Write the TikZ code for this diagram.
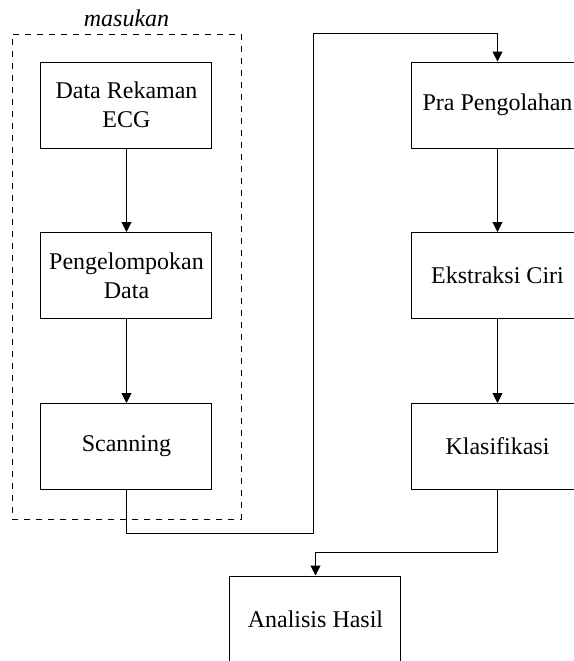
\documentclass[tikz,border=0pt]{standalone}
\usepackage{fontspec}
\setmainfont{Liberation Serif}
\usepackage{tikz}
\usetikzlibrary{arrows.meta}

\tikzset{
  proses/.style={draw, line width=0.5pt, minimum width=85.5pt, minimum height=43pt,
    align=center, inner sep=2pt, font=\fontsize{12}{14.5}\selectfont},
  panah/.style={-{Triangle[width=5pt,length=5pt]}, line width=0.5pt}
}

\begin{document}
\begin{tikzpicture}[x=0.5pt, y=-0.5pt]
\useasboundingbox (0,0) rectangle (574,661);
\node[draw, dashed, line width=0.4pt, minimum width=114.5pt, minimum height=242.5pt] (masuk) at (126.5,276.5) {};
\node[above, font=\fontsize{12}{14.5}\selectfont\itshape] (lblmasuk) at (masuk.north) {masukan};
\node[proses] (ecg) at (126.5,105) {Data Rekaman\\ECG};
\node[proses] (kelompok) at (126.5,275.5) {Pengelompokan\\Data};
\node[proses] (scan) at (126.5,446.5) {Scanning};
\node[proses] (pra) at (497.5,105) {Pra Pengolahan};
\node[proses] (ekstraksi) at (497.5,275.5) {Ekstraksi Ciri};
\node[proses] (klasifikasi) at (497.5,446.5) {Klasifikasi};
\node[proses] (analisis) at (315.5,619) {Analisis Hasil};
\coordinate (b1) at (314,533);
\coordinate (b2) at (314,33);
\coordinate (b3) at (497.5,552);
\draw[panah] (ecg) -- (kelompok);
\draw[panah] (kelompok) -- (scan);
\draw[panah] (scan.south) |- (b1) -- (b2) -| (pra.north);
\draw[panah] (pra) -- (ekstraksi);
\draw[panah] (ekstraksi) -- (klasifikasi);
\draw[panah] (klasifikasi.south) -- (b3) -| (analisis.north);
\end{tikzpicture}
\end{document}
